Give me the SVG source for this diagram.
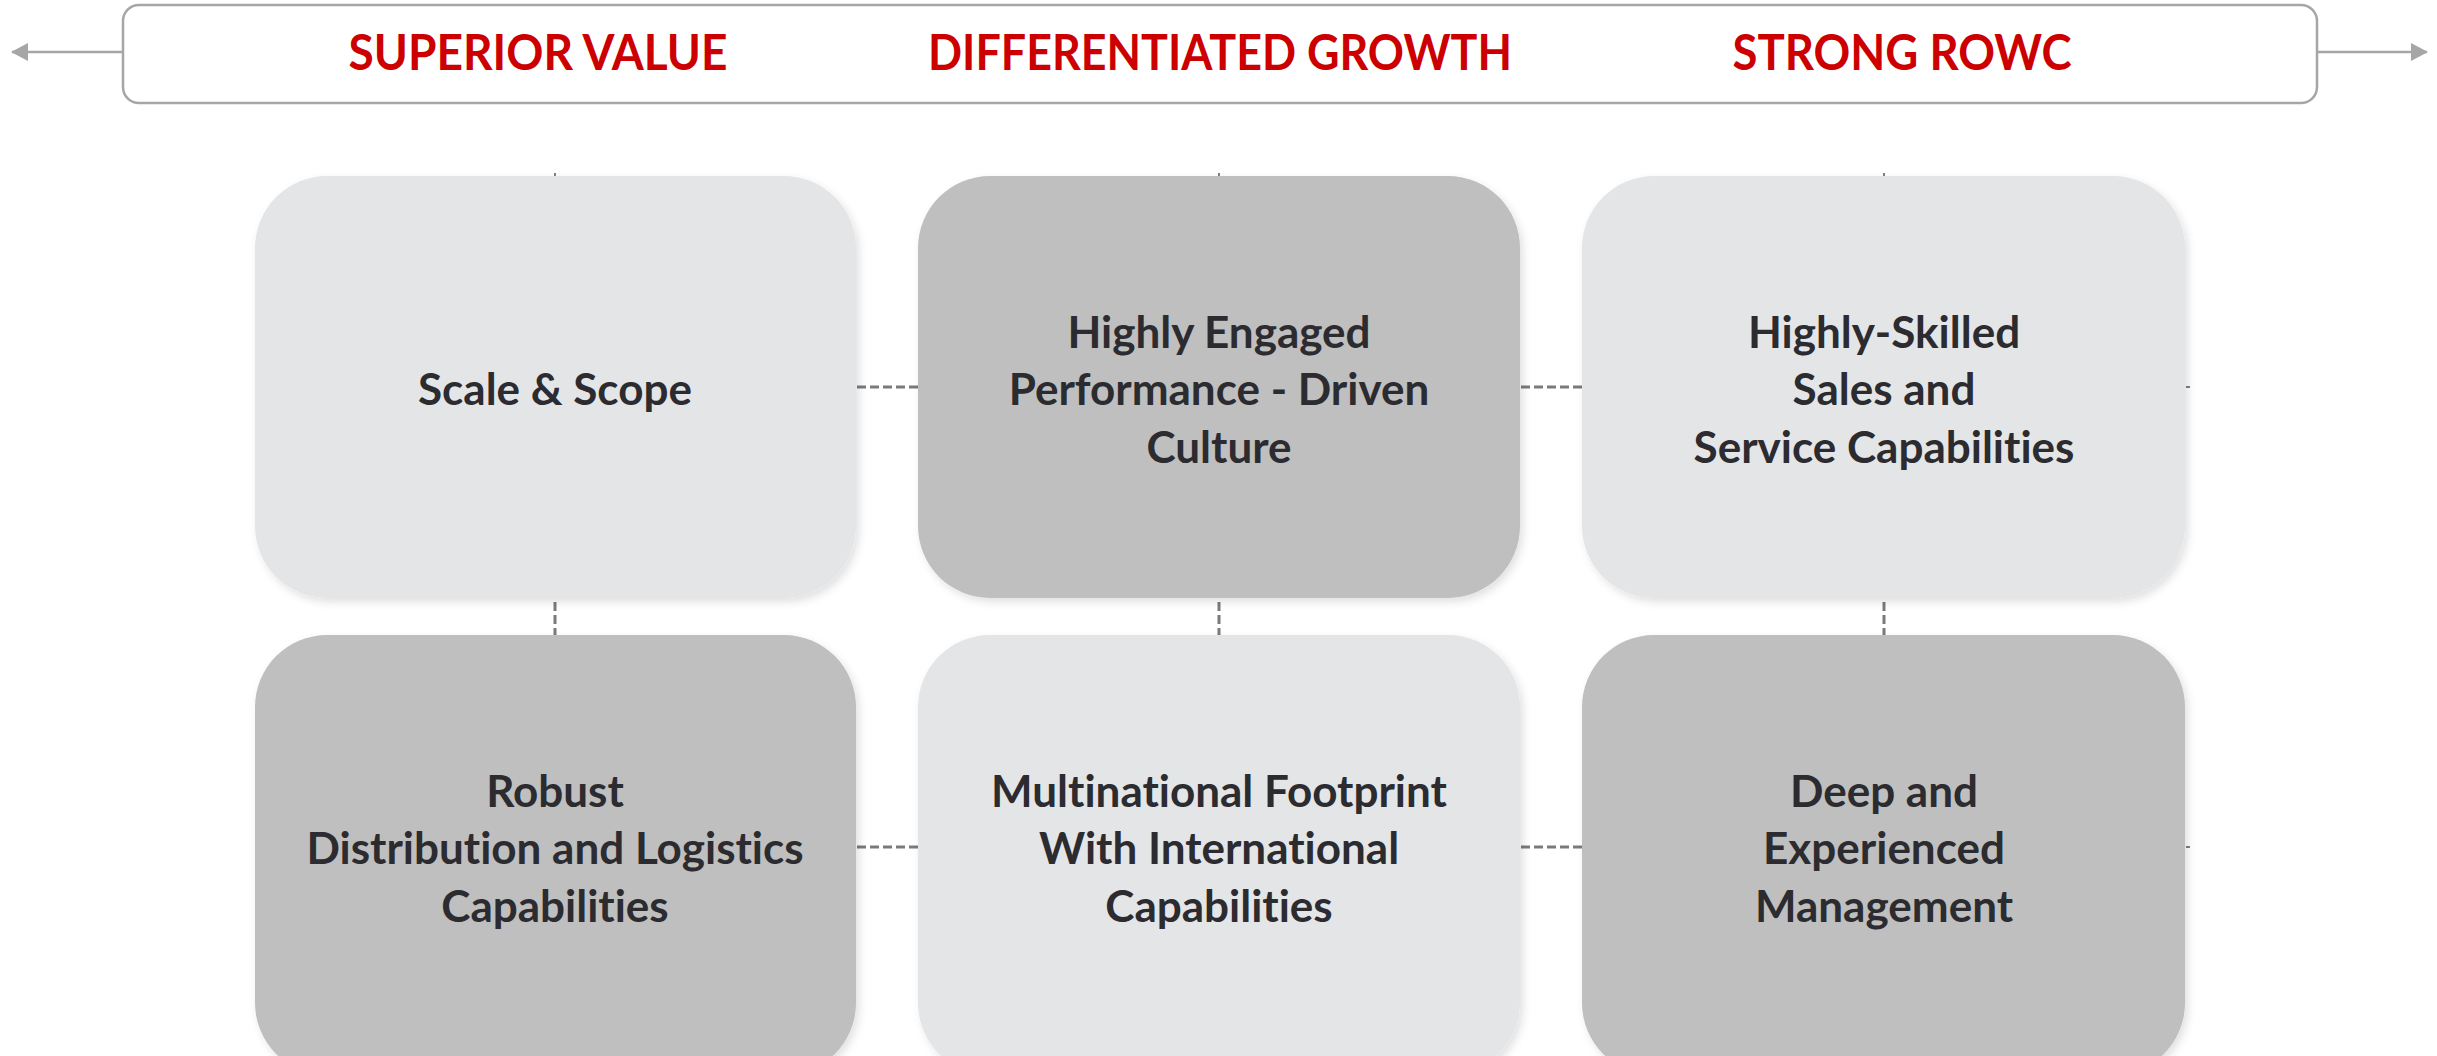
<svg xmlns="http://www.w3.org/2000/svg" width="2437" height="1056" viewBox="0 0 2437 1056">
<style>
.hdr{font-family:Lato,"Liberation Sans",sans-serif;font-weight:700;font-size:50px;fill:#CC0000;text-anchor:middle}
.lbl{font-family:Lato,"Liberation Sans",sans-serif;font-weight:700;font-size:44px;fill:#2B2B30;text-anchor:middle;font-variant-ligatures:none}
.light{fill:#E4E5E7}
.dark{fill:#BFBFBF}
.dash{stroke:#7A7A7A;stroke-width:3;stroke-dasharray:9 4;fill:none}
.arr{stroke:#A6A6A6;stroke-width:2.5;fill:none}
</style>
<defs>
<filter id="sh" x="-10%" y="-10%" width="125%" height="125%">
<feDropShadow dx="3" dy="4" stdDeviation="4" flood-color="#000" flood-opacity="0.12"/>
</filter>
<marker id="ah" markerWidth="18" markerHeight="18" refX="16" refY="9" orient="auto" markerUnits="userSpaceOnUse">
<path d="M0,0 L17,9 L0,18 Z" fill="#A6A6A6"/>
</marker>
</defs>
<rect width="2437" height="1056" fill="#FFFFFF"/>

<g id="header">
<rect x="123" y="5" width="2194" height="98" rx="16" fill="#FFFFFF" stroke="#A6A6A6" stroke-width="2.5"/>
<text class="hdr" x="538" y="70" textLength="379" lengthAdjust="spacingAndGlyphs">SUPERIOR VALUE</text>
<text class="hdr" x="1220" y="70" textLength="584" lengthAdjust="spacingAndGlyphs">DIFFERENTIATED GROWTH</text>
<text class="hdr" x="1902" y="70" textLength="339" lengthAdjust="spacingAndGlyphs">STRONG ROWC</text>
</g>

<g id="connectors">
<line class="arr" x1="123" y1="52" x2="12" y2="52" marker-end="url(#ah)"/>
<line class="arr" x1="2317" y1="52" x2="2427" y2="52" marker-end="url(#ah)"/>
<line class="dash" x1="857" y1="387" x2="918" y2="387"/>
<line class="dash" x1="1521" y1="387" x2="1582" y2="387"/>
<line class="dash" x1="857" y1="847" x2="918" y2="847"/>
<line class="dash" x1="1521" y1="847" x2="1582" y2="847"/>
<line class="dash" x1="555" y1="602" x2="555" y2="635"/>
<line class="dash" x1="1219" y1="602" x2="1219" y2="635"/>
<line class="dash" x1="1884" y1="602" x2="1884" y2="635"/>
<line stroke="#808080" stroke-width="2" x1="555" y1="173" x2="555" y2="176"/>
<line stroke="#808080" stroke-width="2" x1="1219" y1="173" x2="1219" y2="176"/>
<line stroke="#808080" stroke-width="2" x1="1884" y1="173" x2="1884" y2="176"/>
<line stroke="#808080" stroke-width="2" x1="2186" y1="387" x2="2190" y2="387"/>
<line stroke="#808080" stroke-width="2" x1="2186" y1="847" x2="2190" y2="847"/>
</g>

<g id="scale-scope">
<rect class="light" x="255" y="176" width="601" height="422" rx="72" filter="url(#sh)"/>
<text class="lbl" x="555" y="405">Scale &amp; Scope</text>
</g>

<g id="engaged-culture">
<rect class="dark" x="918" y="176" width="602" height="422" rx="72" filter="url(#sh)"/>
<text class="lbl" x="1219" y="348">Highly Engaged</text>
<text class="lbl" x="1219" y="405">Performance - Driven</text>
<text class="lbl" x="1219" y="463">Culture</text>
</g>

<g id="sales-service">
<rect class="light" x="1582" y="176" width="603" height="422" rx="72" filter="url(#sh)"/>
<text class="lbl" x="1884" y="348">Highly-Skilled</text>
<text class="lbl" x="1884" y="405">Sales and</text>
<text class="lbl" x="1884" y="463">Service Capabilities</text>
</g>

<g id="distribution">
<rect class="dark" x="255" y="635" width="601" height="440" rx="72" filter="url(#sh)"/>
<text class="lbl" x="555" y="807">Robust</text>
<text class="lbl" x="555" y="864">Distribution and Logistics</text>
<text class="lbl" x="555" y="922">Capabilities</text>
</g>

<g id="multinational">
<rect class="light" x="918" y="635" width="602" height="440" rx="72" filter="url(#sh)"/>
<text class="lbl" x="1219" y="807">Multinational Footprint</text>
<text class="lbl" x="1219" y="864">With International</text>
<text class="lbl" x="1219" y="922">Capabilities</text>
</g>

<g id="management">
<rect class="dark" x="1582" y="635" width="603" height="440" rx="72" filter="url(#sh)"/>
<text class="lbl" x="1884" y="807">Deep and</text>
<text class="lbl" x="1884" y="864">Experienced</text>
<text class="lbl" x="1884" y="922">Management</text>
</g>
</svg>
